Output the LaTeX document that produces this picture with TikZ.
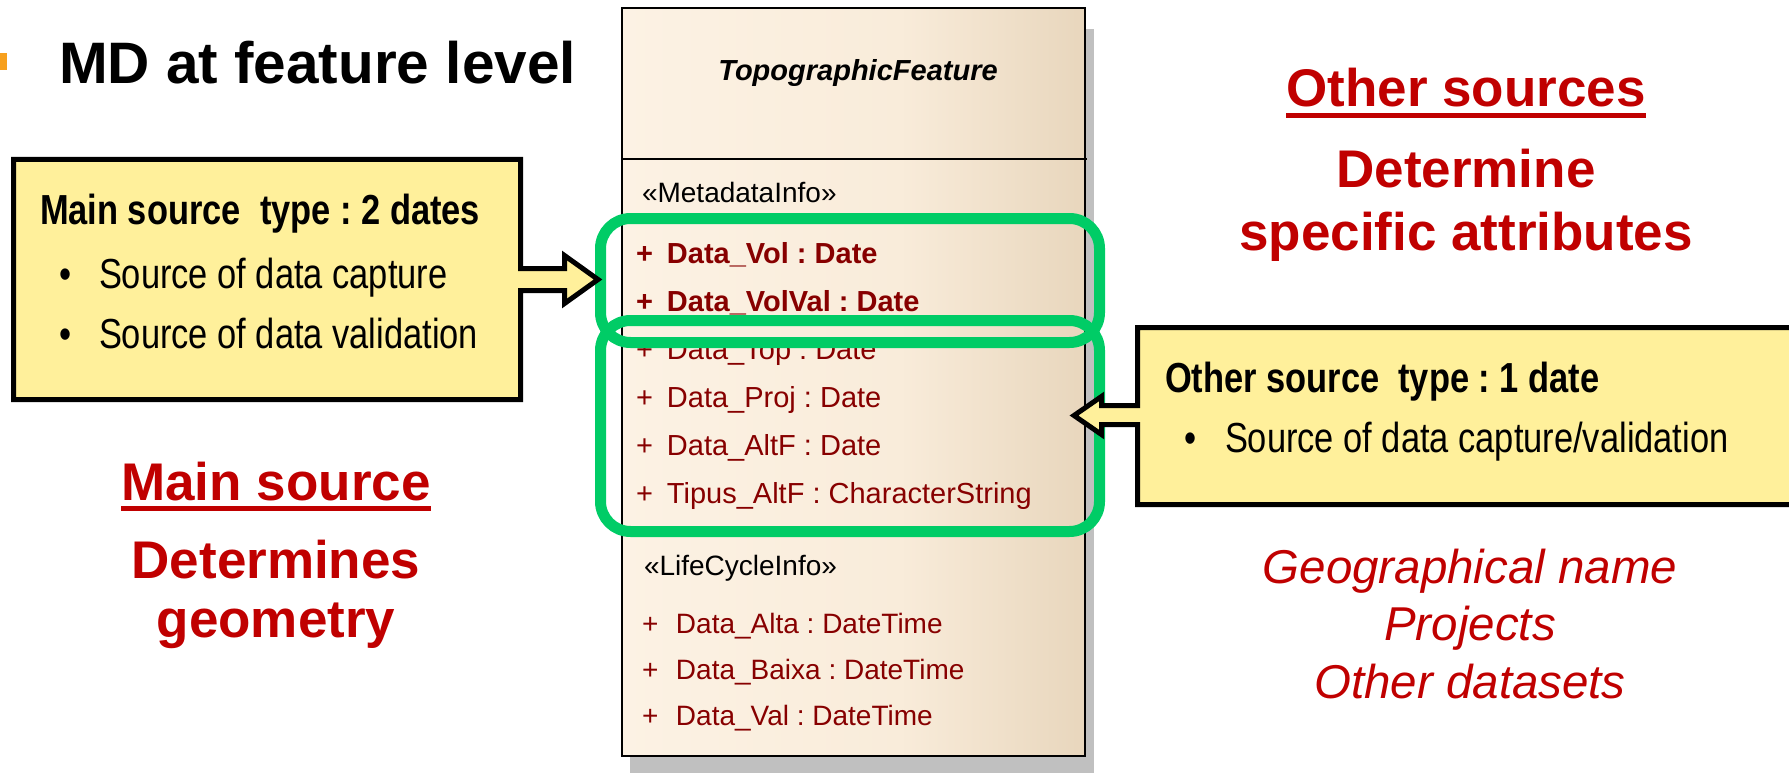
\documentclass[tikz,border=0pt]{standalone}
\usepackage{fontspec}
\setmainfont{Liberation Sans}
\newfontfamily\narrowfont[FakeStretch=0.82]{Liberation Sans}
\frenchspacing
\definecolor{hdred}{RGB}{192,0,0}
\definecolor{attrred}{RGB}{135,0,0}
\definecolor{ygold}{RGB}{255,240,155}
\definecolor{mdgreen}{RGB}{0,204,102}
\definecolor{orng}{RGB}{247,160,30}
\definecolor{shadowgray}{RGB}{192,192,192}
\pgfdeclarehorizontalshading{umlfill}{100bp}{rgb(0bp)=(0.988,0.949,0.894); rgb(25bp)=(0.988,0.949,0.894); rgb(55bp)=(0.976,0.925,0.855); rgb(75bp)=(0.91,0.84,0.74); rgb(100bp)=(0.91,0.84,0.74)}
\tikzset{
  ybox/.style={draw=black, line width=5pt, fill=ygold, line join=miter},
  grn/.style={draw=mdgreen, line width=11pt, rounded corners=30pt},
  classbox/.style={shade, shading=umlfill, draw=black, line width=2pt, minimum width=463pt, minimum height=748pt},
  stereo/.style={anchor=base west, font=\fontsize{28}{33}\selectfont},
  attr/.style={anchor=base west, text=attrred, font=\fontsize{29}{34}\selectfont},
  attrb/.style={attr, font=\fontsize{29}{34}\selectfont\bfseries},
  attrl/.style={anchor=base west, text=attrred, font=\fontsize{28}{33}\selectfont},
  boxhead/.style={anchor=base west, font=\narrowfont\bfseries\fontsize{42}{50}\selectfont},
  boxtxt/.style={anchor=base west, font=\narrowfont\fontsize{42}{50}\selectfont},
  redhead/.style={anchor=base, text=hdred, font=\bfseries\fontsize{53}{64}\selectfont},
  redit/.style={anchor=base, text=hdred, font=\itshape\fontsize{47.5}{57}\selectfont},
  uline/.style={hdred, line width=5pt}
}
\begin{document}
\begin{tikzpicture}[x=1pt,y=-1pt, every node/.style={inner sep=0pt, outer sep=0pt}]
\useasboundingbox (0,0) rectangle (1789,773);
\clip (0,0) rectangle (1789,773);

% title
\fill[orng] (0,53) rectangle (7,70);
\node[anchor=base west, font=\bfseries\fontsize{58.5}{70}\selectfont] (title) at (59,84) {MD at feature level};

% UML class
\fill[shadowgray] (630,29) rectangle (1094,773);
\node[classbox] (cls) at (853.5,382) {};
\draw[line width=2pt] (cls.west |- 0,159) -- ([xshift=2pt]cls.east |- 0,159);
\node[anchor=base, font=\bfseries\itshape\fontsize{29}{34}\selectfont] (cname) at (858,81) {TopographicFeature};
\node[stereo] (st1) at (642,202) {«MetadataInfo»};
\node[attrb] (a1) at (636,263) {\makebox[31pt][l]{+}Data\_Vol : Date};
\node[attrb] (a2) at (636,311) {\makebox[31pt][l]{+}Data\_VolVal : Date};
\node[attr] (a3) at (636,359) {\makebox[31pt][l]{+}Data\_Top : Date};
\node[attr] (a4) at (636,407) {\makebox[31pt][l]{+}Data\_Proj : Date};
\node[attr] (a5) at (636,455) {\makebox[31pt][l]{+}Data\_AltF : Date};
\node[attr] (a6) at (636,503) {\makebox[31pt][l]{+}Tipus\_AltF : CharacterString};
\node[stereo] (st2) at (644,575) {«LifeCycleInfo»};
\node[attrl] (b1) at (642,633) {\makebox[34pt][l]{+}Data\_Alta : DateTime};
\node[attrl] (b2) at (642,679) {\makebox[34pt][l]{+}Data\_Baixa : DateTime};
\node[attrl] (b3) at (642,725) {\makebox[34pt][l]{+}Data\_Val : DateTime};

% green highlight frames
\draw[grn] (600.5,218.5) rectangle (1099.5,342.5);
\draw[grn] (600.5,320.5) rectangle (1099.5,531.5);

% left callout
\draw[ybox] (13.5,159.5) -- (520.5,159.5) -- (520.5,268.5) -- (564.5,268.5) -- (564.5,255.5)
  -- (598,279.5) -- (564.5,303.5) -- (564.5,290.5) -- (520.5,290.5) -- (520.5,399.5) -- (13.5,399.5) -- cycle;
\node[boxhead] (lh) at (40,224) {Main source\ \ type : 2 dates};
\node[boxtxt] (lb1) at (59,288) {\textbullet};
\node[boxtxt] (lt1) at (99,288) {Source of data capture};
\node[boxtxt] (lb2) at (59,348) {\textbullet};
\node[boxtxt] (lt2) at (99,348) {Source of data validation};

% right callout
\draw[ybox] (1137.5,327.5) -- (1795,327.5) -- (1795,504.5) -- (1137.5,504.5) -- (1137.5,424.5)
  -- (1101.5,424.5) -- (1101.5,434.5) -- (1074,415.5) -- (1101.5,396.5) -- (1101.5,405.5) -- (1137.5,405.5) -- cycle;
\node[boxhead] (rh) at (1165,392) {Other source\ \ type : 1 date};
\node[boxtxt] (rb1) at (1184,452) {\textbullet};
\node[boxtxt] (rt1) at (1225,452) {Source of data capture/validation};

% red texts left
\node[redhead] (ms) at (276,500) {Main source};
\draw[uline] ([yshift=-8.5pt]ms.base west) -- ([yshift=-8.5pt]ms.base east);
\node[redhead] (det) at (276,578) {Determines};
\node[redhead] (geo) at (276,637) {geometry};

% red texts right
\node[redhead] (os) at (1466,107) {Other sources};
\draw[uline] ([yshift=-8.5pt]os.base west) -- ([yshift=-8.5pt]os.base east);
\node[redhead] (dt) at (1466,187) {Determine};
\node[redhead] (sa) at (1466,250) {specific attributes};
\node[redit] (g1) at (1470,583) {Geographical name};
\node[redit] (g2) at (1470,640) {Projects};
\node[redit] (g3) at (1470,698) {Other datasets};
\end{tikzpicture}
\end{document}
